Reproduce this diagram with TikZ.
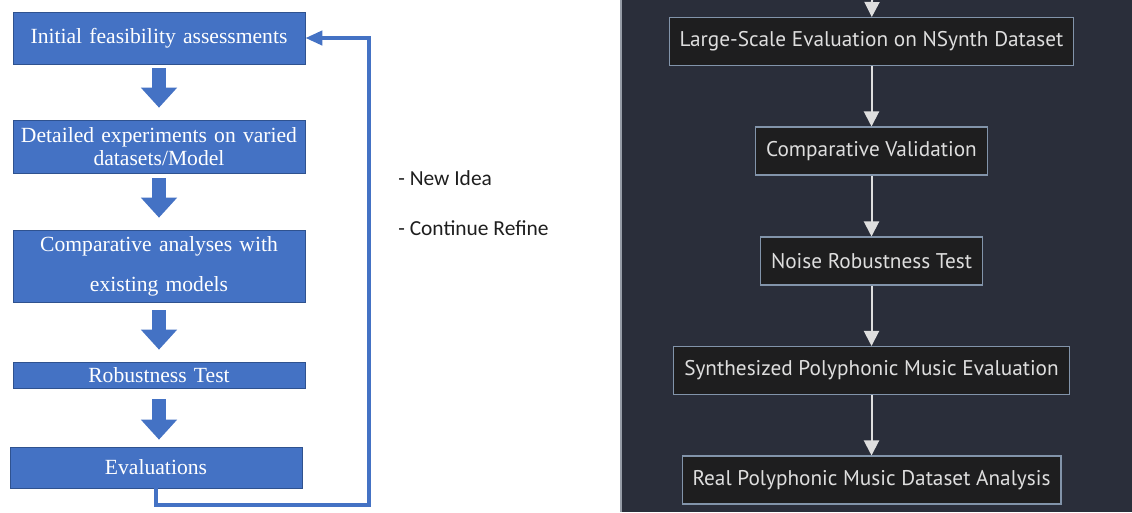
\documentclass[tikz,border=0pt]{standalone}
\usepackage{fontspec}
\setmainfont{Liberation Serif}
\newfontfamily\labelfont{Carlito}
\newfontfamily\chartfont{PT Sans}
\usepackage{tikz}
\usetikzlibrary{arrows.meta}
\definecolor{officeblue}{RGB}{68,114,196}
\definecolor{officeedge}{RGB}{47,82,143}
\definecolor{panelbg}{RGB}{42,46,58}
\definecolor{paneledge}{RGB}{150,156,166}
\definecolor{boxbg}{RGB}{30,30,31}
\definecolor{boxedge}{RGB}{130,148,170}
\definecolor{lighttext}{RGB}{222,222,222}
\definecolor{notetext}{RGB}{30,30,30}

\begin{document}
\begin{tikzpicture}[x=0.02cm, y=-0.02cm]
		\tikzstyle{stage} = [rectangle, minimum width=5.84cm, text width=5.76cm, inner xsep=0.04cm, align=center, fill=officeblue, draw=officeedge, thin, text=white, font=\fontsize{12.3}{13.5}\selectfont]
		
		\tikzstyle{bigarrow} = [officeblue, line width=0.28cm, -{Triangle[width=0.7cm, length=0.4cm]}]
		\tikzstyle{loopback} = [officeblue, line width=0.08cm, -{Triangle[width=0.28cm, length=0.34cm]}]
		
		\tikzstyle{note} = [anchor=west, inner sep=0pt, text=notetext, font=\labelfont\fontsize{12.2}{14}\selectfont]
		
		\tikzstyle{check} = [rectangle, fill=boxbg, draw=boxedge, line width=0.6pt, text=lighttext, inner xsep=0.21cm, minimum height=0.96cm, font=\chartfont\fontsize{12.1}{14}\selectfont]
		\tikzstyle{flow} = [lighttext, line width=0.04cm, -{Triangle[width=0.3cm, length=0.3cm]}]
		%-------------------------------------------------------
		% canvas and dark panel on the right
		\useasboundingbox (0,0) rectangle (1132,512);
		\fill[panelbg] (621,0) rectangle (1132,512);
		\draw[paneledge, line width=0.04cm] (621,0) -- (621,512);
		
		%-------------------------------------------------------
		% research loop (left)
		\node (n1) [stage, minimum height=1.04cm] at (159,38) {Initial feasibility assessments};
		\node (n2) [stage, minimum height=1.06cm] at (159,146.5) {Detailed experiments on varied\\ datasets/Model};
		\node (n3) [stage, minimum height=1.44cm, font=\fontsize{12.3}{22.7}\selectfont] at (159,266) {Comparative analyses with\\ existing models};
		\node (n4) [stage, minimum height=0.52cm, inner ysep=0pt] at (159,375) {Robustness Test};
		\node (n5) [stage, minimum height=0.82cm] at (156,467.5) {Evaluations};
		
		\draw [bigarrow, shorten <=0.08cm, shorten >=0.24cm] (n1.south) -- (n2.north);
		\draw [bigarrow, shorten <=0.10cm, shorten >=0.24cm] (n2.south) -- (n3.north);
		\draw [bigarrow, shorten <=0.16cm, shorten >=0.24cm] (n3.south) -- (n4.north);
		\draw [bigarrow, shorten <=0.22cm, shorten >=0.14cm] (n4.south) -- (n4.south |- n5.north);
		
		\coordinate (turn) at (369,505);
		\draw [loopback] (n5.south) |- (turn) |- (n1.east);
		
		\node (idea) [note] at (398,178) {- New Idea};
		\node (refine) [note] at (398,228) {- Continue Refine};
		
		%-------------------------------------------------------
		% validation chain (right)
		\coordinate (entry) at (872,0);
		\node (a) [check] at (871.5,41.5) {Large-Scale Evaluation on NSynth Dataset};
		\node (b) [check] at (871.5,151) {Comparative Validation};
		\node (c) [check] at (871.5,261) {Noise Robustness Test};
		\node (d) [check] at (871.5,370.5) {Synthesized Polyphonic Music Evaluation};
		\node (e) [check] at (871.5,480) {Real Polyphonic Music Dataset Analysis};
		
		\draw [flow] (entry) -- (a);
		\draw [flow] (a) -- (b);
		\draw [flow] (b) -- (c);
		\draw [flow] (c) -- (d);
		\draw [flow] (d) -- (e);
\end{tikzpicture}
\end{document}
